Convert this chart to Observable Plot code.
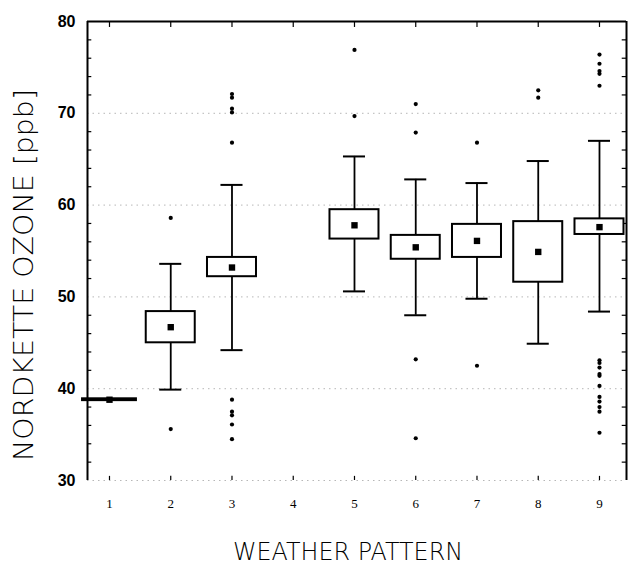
<!DOCTYPE html>
<html>
<head>
<meta charset="utf-8">
<script src="https://cdn.jsdelivr.net/npm/d3@7"></script>
<script src="https://cdn.jsdelivr.net/npm/@observablehq/plot@0.6"></script>
<style>
  html, body { margin: 0; padding: 0; background: #fff; }
</style>
</head>
<body>
<div id="chart"></div>
<script>
// ---- data ----
const tickLabels = [1, 2, 3, 4, 5, 6, 7, 8, 9];
const patterns   = [1, 2, 3, 5, 6, 7, 8, 9];
const q1         = [38.7, 45.0, 52.2, 56.3, 54.1, 54.3, 51.6, 56.8];
const q3         = [38.9, 48.4, 54.3, 59.5, 56.7, 57.9, 58.2, 58.5];
const means      = [38.8, 46.7, 53.2, 57.8, 55.4, 56.1, 54.9, 57.6];
const whiskerLow = [38.8, 39.9, 44.2, 50.6, 48.0, 49.8, 44.9, 48.4];
const whiskerHigh= [38.8, 53.6, 62.2, 65.3, 62.8, 62.4, 64.8, 67.0];
const outliers = [
  [],
  [58.6, 35.6],
  [72.1, 71.7, 70.5, 70.1, 66.8, 38.8, 37.5, 37.1, 36.1, 34.5],
  [76.9, 69.7],
  [71.0, 67.9, 43.2, 34.6],
  [66.8, 42.5],
  [72.5, 71.7],
  [76.4, 75.4, 74.6, 74.3, 73.0, 43.1, 42.8, 42.3, 41.6, 41.4, 40.3, 39.1, 38.6, 38.0, 37.5, 35.2]
];
const yTicks = [30, 40, 50, 60, 70, 80];
const gridValues = [30, 40, 50, 60, 70];
const minorTicks = [32, 34, 36, 38, 42, 44, 46, 48, 52, 54, 56, 58, 62, 64, 66, 68, 72, 74, 76, 78];

// ---- build tables ----
const boxes = patterns.map((p, i) => ({p, q1: q1[i], q3: q3[i], mean: means[i], lo: whiskerLow[i], hi: whiskerHigh[i]}));
const outPts = patterns.flatMap((p, i) => outliers[i].map(v => ({p, v})));

const xMin = 0.641, xMax = 9.441;
const half = 0.40, cap = 0.18, tk = 0.07;
const boxHalf = d => (d.q3 - d.q1 < 0.5 ? 0.44 : half);

const svg = Plot.plot({
  width: 631,
  height: 569,
  marginLeft: 87,
  marginRight: 5,
  marginTop: 21,
  marginBottom: 89,
  style: {background: "#fff", color: "#000"},
  x: {type: "linear", domain: [xMin, xMax]},
  y: {domain: [30, 80]},
  marks: [
    // dotted grid
    Plot.ruleY(gridValues, {x1: xMin, x2: xMax, stroke: "#999", strokeWidth: 1, strokeDasharray: "1.5,4", strokeOpacity: 0.7}),
    // frame
    Plot.ruleX([xMin], {y1: 30, y2: 80, stroke: "#000", strokeWidth: 2}),
    Plot.ruleX([xMax], {y1: 30, y2: 80, stroke: "#000", strokeWidth: 2}),
    Plot.ruleY([80], {x1: xMin, x2: xMax, stroke: "#000", strokeWidth: 2}),
    // minor inward ticks
    Plot.ruleY(minorTicks, {x1: xMin, x2: xMin + tk, stroke: "#000", strokeWidth: 1.2}),
    Plot.ruleY(minorTicks, {x1: xMax - tk, x2: xMax, stroke: "#000", strokeWidth: 1.2}),
    // category ticks top & bottom
    Plot.ruleX(tickLabels, {x: d => d, y1: 80, y2: 79.35, stroke: "#000", strokeWidth: 1.2}),
    Plot.ruleX(tickLabels, {x: d => d, y1: 30, y2: 30.45, stroke: "#000", strokeWidth: 1.2}),
    // whiskers
    Plot.ruleX(boxes, {x: "p", y1: "lo", y2: "q1", stroke: "#000", strokeWidth: 1.8}),
    Plot.ruleX(boxes, {x: "p", y1: "q3", y2: "hi", stroke: "#000", strokeWidth: 1.8}),
    Plot.ruleY(boxes, {y: "lo", x1: d => d.p - cap, x2: d => d.p + cap, stroke: "#000", strokeWidth: 2}),
    Plot.ruleY(boxes, {y: "hi", x1: d => d.p - cap, x2: d => d.p + cap, stroke: "#000", strokeWidth: 2}),
    // boxes
    Plot.rect(boxes, {x1: d => d.p - boxHalf(d), x2: d => d.p + boxHalf(d), y1: "q1", y2: "q3", fill: "#fff", stroke: "#000", strokeWidth: 2}),
    // means
    Plot.dot(boxes, {x: "p", y: "mean", symbol: "square", r: 3.6, fill: "#000", stroke: "none"}),
    // outliers
    Plot.dot(outPts, {x: "p", y: "v", r: 2.1, fill: "#000", stroke: "none"}),
    // axes
    Plot.axisY({ticks: yTicks, tickSize: 0, tickPadding: 12, fontSize: 16, fontWeight: "bold", fontFamily: "Liberation Sans, Arial, sans-serif", fill: "#000", label: null}),
    Plot.axisX({ticks: tickLabels, tickSize: 0, tickPadding: 18, fontSize: 13, fontFamily: "Liberation Serif, serif", fill: "#000", tickFormat: d => String(d), label: null})
  ]
});

const s = d3.select(svg);
s.append("text")
  .attr("x", 348).attr("y", 560)
  .attr("text-anchor", "middle")
  .attr("font-family", "DejaVu Sans, sans-serif")
  .attr("font-weight", 200)
  .attr("font-size", 24)
  .attr("textLength", 230).attr("lengthAdjust", "spacingAndGlyphs")
  .attr("fill", "#000")
  .text("WEATHER PATTERN");
s.append("text")
  .attr("transform", "translate(33,275) rotate(-90)")
  .attr("text-anchor", "middle")
  .attr("font-family", "DejaVu Sans, sans-serif")
  .attr("font-weight", 200)
  .attr("font-size", 26)
  .attr("textLength", 372).attr("lengthAdjust", "spacingAndGlyphs")
  .attr("fill", "#000")
  .text("NORDKETTE OZONE [ppb]");

document.getElementById("chart").appendChild(svg);
</script>
</body>
</html>
